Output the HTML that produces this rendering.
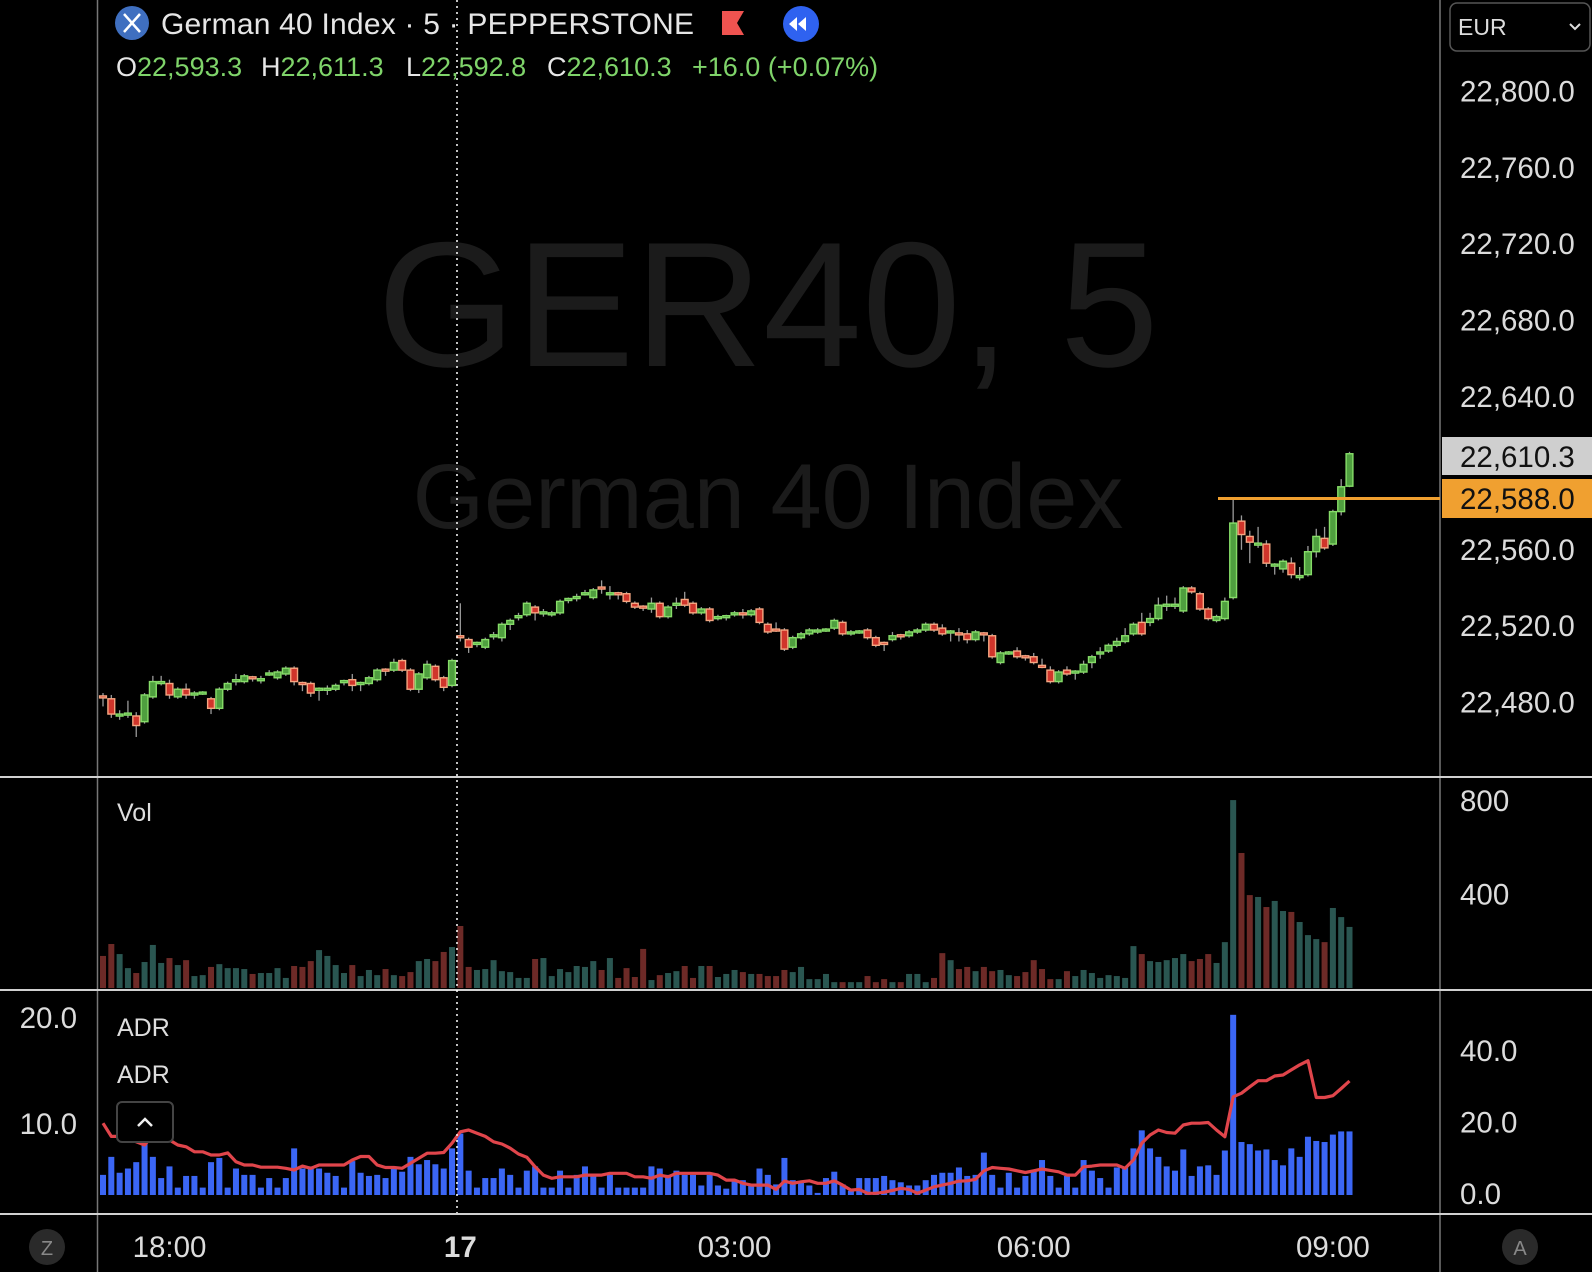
<!DOCTYPE html>
<html><head><meta charset="utf-8">
<style>
html,body{margin:0;padding:0;background:#000;}
svg{display:block;font-family:"Liberation Sans",Arial,sans-serif;}
</style></head>
<body>
<svg id="chart" width="1592" height="1272" viewBox="0 0 1592 1272" xmlns="http://www.w3.org/2000/svg">
<rect x="0" y="0" width="1592" height="1272" fill="#000"/>
<text x="768" y="366" font-size="178" fill="#1b1b1b" text-anchor="middle">GER40, 5</text>
<text x="768" y="528" font-size="92" fill="#1b1b1b" text-anchor="middle">German 40 Index</text>
<g id="grid">
<line x1="97.5" y1="0" x2="97.5" y2="1272" stroke="#777" stroke-width="1.5"/>
<line x1="1440" y1="0" x2="1440" y2="1272" stroke="#777" stroke-width="1.5"/>
<line x1="0" y1="777" x2="1592" y2="777" stroke="#d0d0d0" stroke-width="2"/>
<line x1="0" y1="990" x2="1592" y2="990" stroke="#d0d0d0" stroke-width="2"/>
<line x1="0" y1="1214" x2="1592" y2="1214" stroke="#d0d0d0" stroke-width="2"/>
</g>
<g id="candles"></g>
<g id="vol"></g>
<g id="adrbars"></g>
<g id="adrline"></g>
<g id="axes"></g>
<line x1="457" y1="0" x2="457" y2="1213" stroke="#fff" stroke-width="1.5" stroke-dasharray="2,4"/>
<line x1="1218" y1="498.5" x2="1440" y2="498.5" stroke="#f0a030" stroke-width="3"/>
<g>
<circle cx="132" cy="23" r="17" fill="#3f6fc0"/>
<path d="M124 14 L140 32 M140 14 L124 32" stroke="#fff" stroke-width="2.5"/>
<text x="161" y="34" font-size="30" fill="#e6e6e6" textLength="533">German 40 Index · 5 · PEPPERSTONE</text>
<path d="M722 11 L744 11 L737 23 L744 35 L722 35 Z" fill="#ef5350"/>
<circle cx="801" cy="24" r="18" fill="#2f62f0"/>
<path d="M797 17 L789 24 L797 31 Z M806 17 L798 24 L806 31 Z" fill="#fff"/>
<g font-size="27">
<text x="116" y="76" fill="#e6e6e6">O<tspan fill="#7fd46a">22,593.3</tspan></text>
<text x="261" y="76" fill="#e6e6e6">H<tspan fill="#7fd46a">22,611.3</tspan></text>
<text x="406" y="76" fill="#e6e6e6">L<tspan fill="#7fd46a">22,592.8</tspan></text>
<text x="547" y="76" fill="#e6e6e6">C<tspan fill="#7fd46a">22,610.3</tspan></text>
<text x="692" y="76" fill="#7fd46a">+16.0 (+0.07%)</text>
</g>
</g>
<g>
<rect x="1450" y="3" width="140" height="48" rx="7" fill="#000" stroke="#555" stroke-width="1.5"/>
<text x="1458" y="35" font-size="23" fill="#ddd">EUR</text>
<path d="M1570 24 L1575 29 L1580 24" stroke="#ddd" stroke-width="2" fill="none"/>
</g>
<g>
<rect x="1442" y="437" width="150" height="38" fill="#cfcfcf"/>
<text x="1460" y="467" font-size="29.5" fill="#111">22,610.3</text>
</g>
<g>
<rect x="1442" y="479" width="150" height="39" fill="#f0a030"/>
<text x="1460" y="509" font-size="29.5" fill="#111">22,588.0</text>
</g>
<text x="117" y="821" font-size="25" fill="#ddd">Vol</text>
<text x="117" y="1036" font-size="25" fill="#ddd">ADR</text>
<text x="117" y="1083" font-size="25" fill="#ddd">ADR</text>
<g>
<rect x="117" y="1102" width="56" height="40" rx="5" fill="#000" stroke="#444" stroke-width="2"/>
<path d="M138 1126 L145 1119 L152 1126" stroke="#eee" stroke-width="2.5" fill="none"/>
</g>
<g>
<circle cx="47" cy="1247" r="18" fill="#2a2a2a"/>
<text x="47" y="1255" font-size="20" fill="#888" text-anchor="middle">Z</text>
</g>
<g>
<circle cx="1520" cy="1247" r="18" fill="#2a2a2a"/>
<text x="1520" y="1255" font-size="20" fill="#888" text-anchor="middle">A</text>
</g>
</svg>
<script>
const opens=[22483.5,22482,22474,22474,22473,22470,22483,22490,22490,22483,22487,22484,22485,22482,22477,22487,22492,22491,22493.5,22492,22495,22493,22495,22498,22490.5,22490,22487,22487,22487,22491,22492,22490,22490,22492,22497.5,22497,22502,22497,22487,22493,22499,22493,22489,
22515,22513,22511,22509,22515,22514,22521,22525,22526,22530,22527,22527,22527,22534,22535,22537,22535,22540.5,22537,22537.5,22537,22532,22530.5,22529,22532,22525,22531,22534,22532,22527,22529,22524,22525,22526,22527,22526,22529,22521,22518.5,22518,22509,22514,
22516,22517,22518,22519,22522,22517,22517,22518,22514,22511.5,22513,22515.5,22515,22517.5,22518,22521,22519,22517,22516.5,22516,22513,22516.5,22515,22501,22506,22507,22504.5,22504,22499.5,22497,22491,22497,22496,22496,22501,22506,22507,22510,22512,22516,22522,
22522,22524,22531,22531,22528,22540,22537,22529,22523,22524,22535,22575,22567,22563,22563,22552,22550,22553,22546,22547,22559,22566,22563,22580,22593.3];
const highs=[22485,22484,22476,22481,22475,22485,22494,22494,22492,22488,22490,22486,22486,22483,22488,22491,22495,22495,22494,22494,22497,22497,22499,22499,22491,22491,22488,22489,22490,22492,22495,22491,22494,22498,22498,22503,22503,22498,22496,22502,22500,22494,22503,
22532,22514,22512,22514,22517,22522,22524,22527,22533,22531,22529,22528,22534,22535,22537,22539,22540,22544,22541,22538,22538,22533,22531,22535,22533,22531,22535,22538,22533,22530,22530,22526,22526,22528,22529,22529,22530,22522,22522,22519,22515,22517,
22519,22519,22519,22524,22523,22518,22518,22519,22515,22512,22517,22516,22518,22519,22522,22522,22521,22518,22519,22518,22518,22517,22516,22507,22507,22509,22505,22506,22503,22499,22497,22499,22497,22502,22505,22509,22511,22514,22519,22522,22527,
22527,22535,22536,22535,22541,22541,22538,22530,22526,22535,22587,22578,22570,22572,22565,22553,22555,22556,22551,22562,22571,22572,22581,22597,22611.3];
const lows=[22478,22472,22471,22472,22462,22469,22482,22489,22482,22482,22482,22482,22484,22474,22476,22486,22489,22490,22491,22490,22494,22492,22494,22489,22486,22483,22481,22484,22486,22489,22486,22486,22489,22491,22494,22496,22496,22486,22485,22492,22491,22486,22488,
22512,22506,22509,22508,22513,22512,22518,22523,22525,22523,22525,22525,22526,22532,22533,22536,22534,22537,22534,22534,22532,22529,22528,22527,22524,22524,22529,22530,22526,22526,22522,22523,22523,22525,22524,22525,22521,22516,22517,22507,22508,22513,
22515,22516,22517,22518,22515,22515,22516,22513,22509,22507,22512,22513,22514,22516,22517,22517,22515,22512,22512,22511,22512,22512,22503,22500,22505,22503,22502,22500,22498,22490,22490,22494,22492,22495,22498,22503,22506,22509,22511,22515,22515,
22520,22523,22528,22529,22527,22537,22528,22523,22522,22523,22534,22560,22553,22561,22551,22547,22548,22545,22544,22546,22556,22560,22562,22578,22592.8];
const closes=[22483,22474,22474,22474.5,22468,22484,22491,22491,22484,22487,22484,22485,22485.5,22477,22487,22490,22492,22494,22493,22492.5,22495.5,22496,22498,22491,22490,22485,22487.5,22487.5,22489,22491.5,22489,22490.5,22493,22497,22497,22501,22497,22487,22495,22500,22492,22488,22502,
22514,22509,22511.5,22513,22515.5,22521,22523,22525.5,22532,22527,22527.5,22527,22533,22534.5,22535.5,22537.5,22539,22540,22537.5,22537,22533,22530,22530,22532,22525,22530,22532,22531,22527,22529,22523,22525,22525.5,22527,22526,22528,22522,22517,22518,22508,22514,22516,
22518,22518,22518.5,22523,22516,22517,22517.5,22514,22510,22511,22515,22515,22517,22518,22521,22518,22516,22517.5,22516,22513,22517,22516,22504,22506,22506.5,22504,22504,22501,22499,22491,22496,22495,22496.5,22500,22504,22506.5,22510,22512,22515,22521,22516,
22524,22531,22531.5,22531.5,22540,22538,22529,22524,22525,22533,22574,22568,22564,22563.5,22553,22552.5,22554,22547,22546.5,22559,22567,22561,22580,22593,22610.3];
const volumes=[137,188,145,85,64,111,184,107,128,98,119,51,55,90,102,85,85,81,60,64,64,85,43,94,90,115,162,137,98,64,98,51,77,55,81,55,51,68,115,124,115,154,175,
265,90,77,81,119,72,68,43,43,124,128,51,81,68,94,90,115,77,128,43,85,47,167,34,55,64,72,94,43,94,
94,47,60,77,68,60,60,51,51,77,68,90,38,38,60,25,25,25,25,51,25,38,25,25,60,60,25,43,149,119,81,90,72,90,72,77,55,51,68,119,81,38,38,72,51,77,64,43,55,51,43,
179,145,115,111,119,128,145,115,124,145,107,196,803,577,397,389,346,372,329,325,282,226,209,196,342,303,261];
const adrBars=[5.2,6.9,5.4,5.8,6.4,8.4,6.9,4.9,6.0,4.0,5.1,5.1,4.0,6.4,6.8,4.0,5.8,5.2,5.2,4.0,4.9,4.0,4.9,7.7,5.8,6.0,5.8,5.4,5.1,4.0,6.5,5.4,5.1,5.2,4.9,5.8,5.5,6.9,6.2,6.6,6.2,5.8,7.7,9.1,
5.6,4.0,4.9,4.9,5.8,5.2,4.0,5.6,6.0,4.0,4.0,5.6,4.0,5.2,6.0,5.1,4.0,5.2,4.0,4.0,4.0,4.0,6.0,5.8,5.2,5.6,5.2,5.2,
4.2,5.2,4.2,3.9,4.6,4.7,4.2,5.8,5.2,4.3,6.8,4.7,4.5,4.2,3.5,4.9,5.5,4.3,3.7,4.9,4.9,4.9,5.1,4.7,4.5,4.2,4.2,4.7,5.2,5.4,5.4,5.9,5.1,5.2,7.3,5.2,
4.0,5.4,4.0,5.1,5.6,6.6,5.1,4.0,5.1,4.0,6.6,5.6,4.9,4.0,5.9,5.9,7.7,9.4,7.7,6.9,6.0,5.6,7.6,5.1,6.0,6.1,5.2,7.5,20.3,8.3,8.1,7.5,7.6,6.6,6.1,7.7,6.9,8.8,8.4,8.3,9.0,9.3,9.3];
const adrLine=[19.8,16.1,16.1,16.1,14.6,13.7,16.5,15.1,15.1,13.7,13.2,11.8,11.8,10.9,10.9,11.5,9.0,8.1,8.1,7.5,7.5,7.5,7.2,6.7,7.8,7.2,8.1,8.1,8.1,8.1,9.5,10.5,10.5,8.1,7.4,7.4,7.2,8.6,10.0,11.4,11.4,11.6,14.2,17.4,17.9,17.0,16.1,14.6,14.0,12.8,11.2,10.3,7.6,5.3,4.4,4.8,4.8,4.8,5.3,5.3,5.3,5.8,5.8,5.8,4.8,4.8,4.4,5.3,4.8,5.8,5.8,5.8,
5.8,5.8,5.3,3.9,3.9,3.0,2.5,2.5,2.5,1.3,3.6,3.0,3.4,3.7,3.0,3.0,3.7,2.5,1.1,1.3,0.2,0.2,0.5,1.0,1.6,1.3,0.2,1.1,2.0,2.5,3.0,3.6,3.7,4.1,6.5,7.4,
7.2,7.0,6.5,6.0,6.5,7.0,6.6,6.2,5.3,5.3,7.6,7.8,8.1,8.1,8.1,7.2,9.5,14.2,16.5,17.9,17.2,17.0,19.3,19.8,19.8,20.0,17.9,16.0,27.2,28.2,30.0,31.7,31.7,33.0,33.3,34.7,36.1,37.3,27.0,27.0,27.5,29.5,31.6];
const priceTicks=[22800,22760,22720,22680,22640,22600,22560,22520,22480];
const priceTickLabels=["22,800.0","22,760.0","22,720.0","22,680.0","22,640.0","","22,560.0","22,520.0","22,480.0"];
const volTicks=[800,400];
const adrRightTicks=[40,20,0];
const adrLeftTicks=[20,10];
const timeTickIdx=[8,43,76,112,148];
const timeTickLabels=["18:00","17","03:00","06:00","09:00"];

const NS="http://www.w3.org/2000/svg";
function xOf(i){return 103+i*8.31;}
function yPrice(p){return 91.4+(22800-p)*1.91;}
function yVol(v){return 988-v*0.234;}
function yAdrL(v){return 1230-v*10.6;}
function yAdrR(v){return 1194-v*3.575;}
function mk(tag,attrs,parent){const e=document.createElementNS(NS,tag);for(const k in attrs)e.setAttribute(k,attrs[k]);parent.appendChild(e);return e;}

const gC=document.getElementById('candles');
for(let i=0;i<closes.length;i++){
  const x=xOf(i),up=closes[i]>=opens[i];
  const w=mk('line',{x1:x,x2:x,y1:yPrice(highs[i]),y2:yPrice(lows[i]),stroke:'#9a9a9a','stroke-width':1.3},gC);
  
  
  const top=yPrice(Math.max(opens[i],closes[i])),bot=yPrice(Math.min(opens[i],closes[i]));
  const h=Math.max(2,bot-top);
  const b=mk('rect',{x:x-3.4,y:top,width:6.8,height:h,fill:up?'#4f9f3f':'#d0352b',stroke:up?'#86dc68':'#f5a681','stroke-width':1.4},gC);
  
  
}
const gV=document.getElementById('vol');
for(let i=0;i<volumes.length;i++){
  const up=closes[i]>=opens[i];
  const r=mk('rect',{x:xOf(i)-3,y:yVol(volumes[i]),width:6,height:988-yVol(volumes[i]),fill:up?'#2a5651':'#6d2a27'},gV);
  
  
}
const gA=document.getElementById('adrbars');
for(let i=0;i<adrBars.length;i++){
  const y=yAdrL(adrBars[i]);
  const r=mk('rect',{x:xOf(i)-3,y:y,width:6,height:Math.max(0,1195-y),fill:'#3b66f5'},gA);
  
  
}
const gL=document.getElementById('adrline');
const pts=adrLine.map((v,i)=>xOf(i).toFixed(1)+','+yAdrR(v).toFixed(1)).join(' ');
const pl=mk('polyline',{points:pts,fill:'none',stroke:'#e0454b','stroke-width':3.2,'stroke-linejoin':'round'},gL);



const gX=document.getElementById('axes');
priceTicks.forEach((p,k)=>{
  if(!priceTickLabels[k])return;
  const t=mk('text',{x:1460,y:yPrice(p)+10,'font-size':29.5,fill:'#dcdcdc'},gX);
  t.textContent=priceTickLabels[k];
  
  
});
volTicks.forEach(v=>{
  const t=mk('text',{x:1460,y:yVol(v)+10,'font-size':29.5,fill:'#dcdcdc'},gX);
  t.textContent=String(v);
  
  
});
adrRightTicks.forEach(v=>{
  const t=mk('text',{x:1460,y:yAdrR(v)+10,'font-size':29.5,fill:'#dcdcdc'},gX);
  t.textContent=v.toFixed(1);
  
  
});
adrLeftTicks.forEach(v=>{
  const t=mk('text',{x:77,y:yAdrL(v)+10,'font-size':29.5,fill:'#dcdcdc','text-anchor':'end'},gX);
  t.textContent=v.toFixed(1);
  
  
});
timeTickIdx.forEach((idx,k)=>{
  const t=mk('text',{x:xOf(idx),y:1257,'font-size':29.5,fill:'#dcdcdc','text-anchor':'middle','font-weight':timeTickLabels[k]==='17'?'bold':'normal'},gX);
  t.textContent=timeTickLabels[k];
  
  
});
</script>
</body></html>
